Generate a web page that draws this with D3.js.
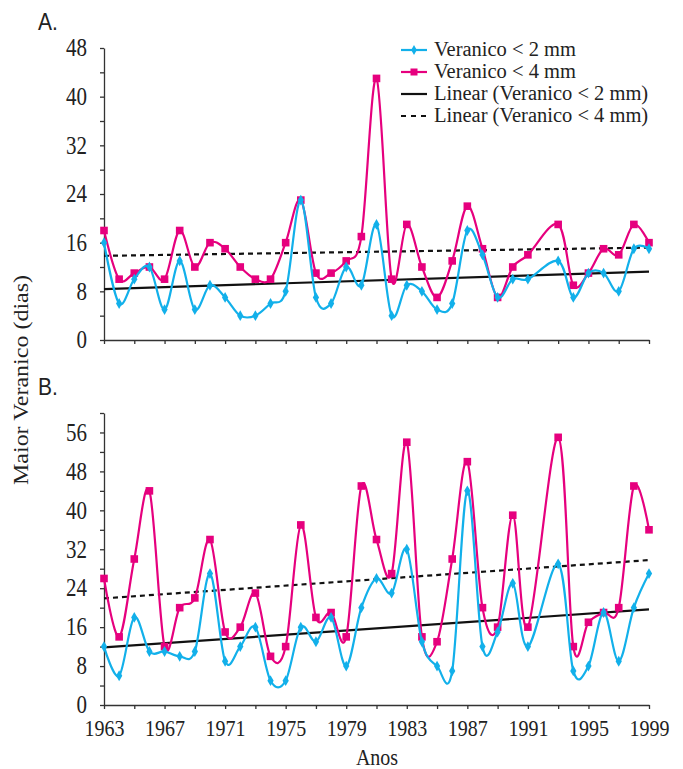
<!DOCTYPE html>
<html>
<head>
<meta charset="utf-8">
<script src="https://cdn.jsdelivr.net/npm/d3@7"></script>
<style>
  body { margin: 0; background: #fff; }
  svg { display: block; }
  .axis path, .axis line { stroke: #333; stroke-width: 1.3px; }
  .axis text { font-family: "Liberation Serif", "Times New Roman", serif; fill: #222; }
  .lbl { font-family: "Liberation Serif", "Times New Roman", serif; fill: #222; }
  .panel { font-family: "Liberation Sans", Arial, sans-serif; font-size: 21px; fill: #222; }
</style>
</head>
<body>
<svg width="683" height="769"></svg>
<script>
// anos (1992 sem dado)
var years = d3.range(1963, 2000);

// A.
var ver2A = [16,6,10,12,5,13,5,9,7,4,4,6,8,23,7,6,12,9,19,4,9,8,5,6,18,14,7,10,10,null,13,7,11,11,8,15,15];
var ver4A = [18,10,11,12,10,18,12,16,15,12,10,10,16,23,11,11,13,17,43,10,19,12,7,13,22,15,7,12,14,null,19,9,11,15,14,19,16];

// B.
var ver2B = [12,6,18,11,11,10,11,27,9,12,16,5,5,16,13,18,8,20,26,23,32,13,8,7,44,12,15,25,12,null,29,7,8,19,9,20,27];
var ver4B = [26,14,30,44,12,20,22,34,15,16,23,10,12,37,18,19,14,45,34,27,54,14,13,30,50,20,16,39,16,null,55,12,17,19,20,45,36];

var xLabels = ["1963","1967","1971","1975","1979","1983","1987","1991","1995","1999"];
var legendNames = ["Veranico < 2 mm", "Veranico < 4 mm", "Linear (Veranico < 2 mm)", "Linear (Veranico < 4 mm)"];

var pink = "#e6007e", blue = "#12b0ea";
var stretch = 1.15; // texto mais alto que largo no original

var svg = d3.select("svg");

var x = d3.scaleLinear().domain([1963, 1999]).range([104, 649]);

var panels = [
  { name: "A.", s2: ver2A, s4: ver4A, max: 48, top: 48, bottom: 340, labels: false, ny: 30 },
  { name: "B.", s2: ver2B, s4: ver4B, max: 60, top: 413, bottom: 705, labels: true, ny: 395 }
];

// regressao linear (tendencia)
function linFit(vals) {
  var pts = years.map((yr, i) => [yr, vals[i]]).filter(d => d[1] != null);
  var mx = d3.mean(pts, d => d[0]), my = d3.mean(pts, d => d[1]);
  var b = d3.sum(pts, d => (d[0]-mx)*(d[1]-my)) / d3.sum(pts, d => (d[0]-mx)*(d[0]-mx));
  var a = my - b*mx;
  return [[1963, a + b*1963], [1999, a + b*1999]];
}

panels.forEach(function(p) {
  var y = d3.scaleLinear().domain([0, p.max]).range([p.bottom, p.top]);
  var g = svg.append("g");

  var yAx = g.append("g")
    .attr("class", "axis")
    .attr("transform", "translate(" + x.range()[0] + ",0)")
    .call(d3.axisLeft(y)
      .tickValues(d3.range(0, p.max + 1, 4))
      .tickSize(4).tickSizeOuter(0).tickPadding(13)
      .tickFormat(d => d % 8 == 0 ? d : ""));
  yAx.selectAll("text").attr("font-size", "21px")
    .attr("transform", "scale(1," + stretch + ")");

  var xAx = g.append("g")
    .attr("class", "axis")
    .attr("transform", "translate(0," + p.bottom + ")")
    .call(d3.axisBottom(x)
      .tickValues(d3.range(1963, 2000, 2))
      .tickSize(4).tickSizeOuter(0).tickPadding(9)
      .tickFormat(d => (p.labels && xLabels.indexOf(String(d)) >= 0) ? d : ""));
  xAx.selectAll("text").attr("font-size", "20px")
    .attr("transform", "scale(1," + stretch + ")");

  // tendencias
  var line = d3.line().x(d => x(d[0])).y(d => y(d[1]));
  g.append("path").attr("d", line(linFit(p.s2)))
    .attr("fill", "none").attr("stroke", "#111").attr("stroke-width", 2.2);
  g.append("path").attr("d", line(linFit(p.s4)))
    .attr("fill", "none").attr("stroke", "#111").attr("stroke-width", 2.2)
    .attr("stroke-dasharray", "5,4");

  var smooth = d3.line().x(d => x(d[0])).y(d => y(d[1])).curve(d3.curveCatmullRom.alpha(0));

  [[p.s4, pink, "square"], [p.s2, blue, "diamond"]].forEach(function(s) {
    var pts = years.map((yr, i) => [yr, s[0][i]]).filter(d => d[1] != null);
    g.append("path").attr("d", smooth(pts))
      .attr("fill", "none").attr("stroke", s[1]).attr("stroke-width", 2.2);
    if (s[2] == "square") {
      g.selectAll(".sq").data(pts).enter().append("rect")
        .attr("x", d => x(d[0]) - 3.8).attr("y", d => y(d[1]) - 3.8)
        .attr("width", 7.6).attr("height", 7.6).attr("fill", s[1]);
    } else {
      g.selectAll(".dm").data(pts).enter().append("path")
        .attr("d", d3.symbol(d3.symbolDiamond, 34))
        .attr("transform", d => "translate(" + [x(d[0]), y(d[1])] + ")")
        .attr("fill", s[1]);
    }
  });

  svg.append("text").attr("class", "panel")
    .attr("transform", "translate(38," + p.ny + ") scale(1," + stretch + ")")
    .text(p.name);
});

// legenda
var legend = svg.append("g").attr("transform", "translate(401,0)");
var legY = [56, 78, 100, 122];
legendNames.forEach(function(name, i) {
  var row = legend.append("g").attr("transform", "translate(0," + legY[i] + ")");
  var col = i == 0 ? blue : i == 1 ? pink : "#111";
  row.append("line").attr("x1", 0).attr("x2", 26).attr("y1", -6).attr("y2", -6)
    .attr("stroke", col).attr("stroke-width", 2.2)
    .attr("stroke-dasharray", i == 3 ? "5,5" : null);
  if (i == 0) row.append("path").attr("d", d3.symbol(d3.symbolDiamond, 28))
    .attr("transform", "translate(13,-6)").attr("fill", blue);
  if (i == 1) row.append("rect").attr("x", 9.5).attr("y", -9.5)
    .attr("width", 7).attr("height", 7).attr("fill", pink);
  row.append("text").attr("class", "lbl").attr("x", 33).attr("y", 0)
    .attr("font-size", "20.5px").text(name);
});

// titulos dos eixos
svg.append("text").attr("class", "lbl")
  .attr("transform", "translate(28,380) rotate(-90) scale(1.2,1)")
  .attr("text-anchor", "middle").attr("font-size", "20px")
  .text("Maior Veranico (dias)");

svg.append("text").attr("class", "lbl")
  .attr("transform", "translate(377,765) scale(1," + stretch + ")")
  .attr("text-anchor", "middle").attr("font-size", "20px")
  .text("Anos");
</script>
</body>
</html>
